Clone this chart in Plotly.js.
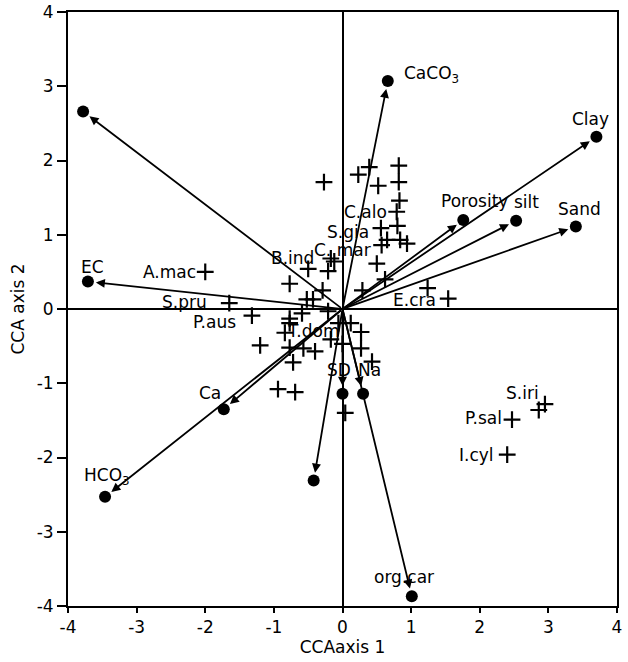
<!DOCTYPE html>
<html>
<head>
<meta charset="utf-8">
<script src="https://cdn.plot.ly/plotly-3.0.1.min.js"></script>
<style>html,body{margin:0;padding:0;background:#fff;}#chart{width:628px;height:662px;}</style>
</head>
<body>
<div id="chart"></div>
<script>
// Environmental variables (vector tips)
const envNames = ['', 'EC', 'HCO<sub>3</sub>', 'Ca', '', 'SD', 'Na', 'org.car', 'CaCO<sub>3</sub>', 'Clay', 'Porosity', 'silt', 'Sand'];
const envX = [-3.78, -3.71, -3.46, -1.73, -0.42, 0.00, 0.30, 1.01, 0.66, 3.70, 1.76, 2.53, 3.40];
const envY = [2.66, 0.37, -2.53, -1.35, -2.31, -1.14, -1.14, -3.87, 3.07, 2.32, 1.20, 1.19, 1.11];

// Species scores (upper cluster)
const spNamesA = ['A.mac','S.pru','P.aus','B.ind','','','','','','','','C.alo','S.gia','','','','','C. mar','','','','','E.cra'];
const spXA = [-2.00,-1.65,-1.32,-0.50,-0.27,0.23,0.39,0.52,0.82,0.82,0.83,0.79,0.56,0.80,0.65,0.84,0.94,0.57,0.50,0.62,0.29,1.24,1.54];
const spYA = [0.50,0.08,-0.09,0.54,1.71,1.81,1.91,1.66,1.93,1.71,1.46,1.31,1.09,1.12,0.93,0.93,0.88,0.86,0.61,0.40,0.25,0.28,0.14];
// Species scores (central / lower cluster)
const spNamesB = ['','','','','','','','','T.dom','','','','','','','','','','','','','','','',''];
const spXB = [-0.17,-0.12,-0.21,-0.77,-0.29,-0.52,-0.43,-0.59,-0.77,-0.84,-1.20,-0.77,-0.57,-0.40,-0.72,-0.94,-0.69,-0.17,-0.06,0.12,0.27,0.00,0.27,0.43,0.04];
const spYB = [0.68,0.64,0.51,0.34,0.25,0.13,0.13,-0.06,-0.13,-0.32,-0.49,-0.52,-0.53,-0.57,-0.72,-1.08,-1.12,-0.41,-0.19,-0.19,-0.31,-0.47,-0.53,-0.71,-1.40];
// Species scores (right group and extras)
const spNamesC = ['', 'S.iri', 'P.sal', 'I.cyl', '', ''];
const spXC = [2.86, 2.95, 2.47, 2.40, -0.77, -0.21];
const spYC = [-1.36, -1.28, -1.49, -1.96, -0.19, -0.03];

const spNames = spNamesA.concat(spNamesB, spNamesC);
const spX = spXA.concat(spXB, spXC);
const spY = spYA.concat(spYB, spYC);

const xTicks = [-4,-3,-2,-1,0,1,2,3,4];
const xTickText = ['-4','-3','-2','-1','0','1','2','3','4'];
const yTicks = [-4,-3,-2,-1,0,1,2,3,4];
const yTickText = ['-4','-3','-2','-1','0','1','2','3','4'];

const FONT = 'DejaVu Sans';
const FS = 17;

// label placements (pixel offsets relative to the point)
const envLabelPos = {
  'EC': [5, 15, 'center'], 'HCO<sub>3</sub>': [2, 20, 'center'], 'Ca': [-14, 16, 'center'],
  'SD': [-4, 24, 'center'], 'Na': [6, 24, 'center'], 'org.car': [-8, 19, 'center'],
  'CaCO<sub>3</sub>': [14, 7, 'left'], 'Clay': [-6, 18, 'center'], 'Porosity': [11, 19, 'center'],
  'silt': [10, 19, 'center'], 'Sand': [4, 18, 'center']
};
const spLabelPos = {
  'A.mac': [-7, 0, 'right'], 'S.pru': [-20, 1, 'right'], 'P.aus': [-14, -6, 'right'],
  'B.ind': [-16, 11, 'center'], 'C.alo': [-8, 0, 'right'], 'S.gia': [-10, -4, 'right'],
  'C. mar': [-9, -5, 'right'], 'E.cra': [-10, -1, 'right'], 'S.iri': [-4, 11, 'right'],
  'P.sal': [-8, 2, 'right'], 'I.cyl': [-11, 0, 'right'], 'T.dom': [-5, -12, 'left']
};

const traces = [
  {x: spX, y: spY, type: 'scatter', mode: 'markers', hoverinfo: 'skip',
   marker: {symbol: 'cross-thin', size: 12, color: '#000', line: {color: '#000', width: 2.2}}},
  {x: envX, y: envY, type: 'scatter', mode: 'markers', hoverinfo: 'skip',
   marker: {symbol: 'circle', size: 12, color: '#000'}}
];

const annotations = [];
envX.forEach((x, i) => {
  annotations.push({x: x, y: envY[i], ax: 0, ay: 0, xref: 'x', yref: 'y', axref: 'x', ayref: 'y',
    text: '', showarrow: true, arrowhead: 2, arrowsize: 1, arrowwidth: 1.8, arrowcolor: '#000', standoff: 8});
});
envNames.forEach((n, i) => {
  if (!n) return;
  const p = envLabelPos[n];
  annotations.push({x: envX[i], y: envY[i], xref: 'x', yref: 'y', text: n, showarrow: false,
    xanchor: p[2], yanchor: 'middle', xshift: p[0], yshift: p[1], font: {family: FONT, size: FS, color: '#000'}});
});
spNames.forEach((n, i) => {
  if (!n) return;
  const p = spLabelPos[n];
  annotations.push({x: spX[i], y: spY[i], xref: 'x', yref: 'y', text: n, showarrow: false,
    xanchor: p[2], yanchor: 'middle', xshift: p[0], yshift: p[1], font: {family: FONT, size: FS, color: '#000'}});
});

const axisCommon = {
  range: [-4, 4], showgrid: false, zeroline: true, zerolinecolor: '#000', zerolinewidth: 2,
  showline: true, linecolor: '#000', linewidth: 2, mirror: true,
  ticks: 'outside', tickcolor: '#000', tickwidth: 2,
  tickfont: {family: FONT, size: FS, color: '#000'}
};

const layout = {
  width: 628, height: 662,
  margin: {l: 68, r: 11, t: 12, b: 56},
  paper_bgcolor: '#fff', plot_bgcolor: '#fff',
  showlegend: false,
  xaxis: Object.assign({}, axisCommon, {tickvals: xTicks, ticktext: xTickText, ticklen: 5,
    title: {text: 'CCAaxis 1', font: {family: FONT, size: FS, color: '#000'}, standoff: 4}}),
  yaxis: Object.assign({}, axisCommon, {tickvals: yTicks, ticktext: yTickText, ticklen: 9,
    title: {text: 'CCA axis 2', font: {family: FONT, size: FS, color: '#000'}, standoff: 8}}),
  annotations: annotations
};

Plotly.newPlot('chart', traces, layout, {staticPlot: true});
</script>
</body>
</html>
